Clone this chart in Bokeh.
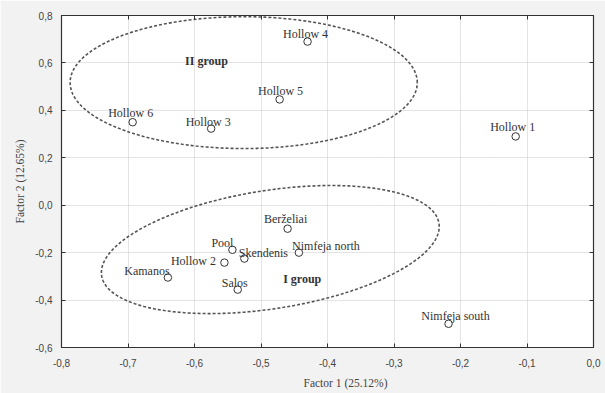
import numpy as np
from bokeh.plotting import figure
from bokeh.models import (ColumnDataSource, FixedTicker, CustomJSTickFormatter,
                          LinearAxis, Range1d, Label, Title)
from bokeh.core.properties import value
from bokeh.embed import file_html
from bokeh.resources import INLINE

# ---- data ----
sites = ["Hollow 1", "Hollow 2", "Hollow 3", "Hollow 4", "Hollow 5", "Hollow 6",
         "Kamanos", "Pool", "Skendenis", "Berželiai",
         "Nimfeja north", "Salos", "Nimfeja south"]
factor1 = [-0.117, -0.555, -0.575, -0.430, -0.472, -0.693,
           -0.640, -0.543, -0.525, -0.460, -0.443, -0.535, -0.218]
factor2 = [0.290, -0.242, 0.323, 0.690, 0.446, 0.350,
           -0.305, -0.188, -0.225, -0.099, -0.200, -0.356, -0.500]

x_ticks = [-0.8, -0.7, -0.6, -0.5, -0.4, -0.3, -0.2, -0.1, 0.0]
y_ticks = [-0.6, -0.4, -0.2, 0.0, 0.2, 0.4, 0.6, 0.8]

# group ellipses: centre and parametric coefficients (x = cx + a cos t, y = cy + b cos t + c sin t)
group_names = ["II group", "I group"]
group_cx = [-0.526, -0.486]
group_cy = [0.517, -0.187]
group_a = [0.261, 0.254]
group_b = [0.0, 0.097]
group_c = [0.278, 0.252]
group_label_x = [-0.582, -0.438]
group_label_y = [0.610, -0.310]

x_title = "Factor 1 (25.12%)"
y_title = "Factor 2 (12.65%)"

# label placement (pixels)
label_dx = [-3, -31, -3, -2, 1, -2, -21, -10, 19, -2, 27, -3, 7]
label_dy = [-9, -2, -7, -8, -8, -9, -7, -7, -6, -10, -7, -7, -8]

SERIF = "Liberation Serif"

p = figure(width=605, height=393, x_range=Range1d(-0.8, 0.0), y_range=Range1d(-0.6, 0.8),
           output_backend="svg", toolbar_location=None,
           min_border_left=61, min_border_right=12, min_border_top=15, min_border_bottom=0)
p.background_fill_color = "white"
p.border_fill_color = "#f2f2f2"
p.outline_line_color = "#333333"
p.outline_line_width = 1.2

fmt = CustomJSTickFormatter(code="return tick.toFixed(1).replace('.', ',');")

for ax, ticks in ((p.xaxis[0], x_ticks), (p.yaxis[0], y_ticks)):
    ax.ticker = FixedTicker(ticks=ticks)
    ax.formatter = fmt
    ax.major_tick_in = 4
    ax.major_tick_out = 0
    ax.minor_tick_line_color = None
    ax.axis_line_color = "#333333"
    ax.major_tick_line_color = "#333333"
    ax.major_label_text_font = "Liberation Sans"
    ax.major_label_text_font_size = "10px"
    ax.major_label_text_color = "#444444"
    ax.axis_label_text_font = SERIF
    ax.axis_label_text_font_style = "normal"
    ax.axis_label_text_font_size = "11.5px"
    ax.axis_label_text_color = "#444444"

p.yaxis[0].axis_label = y_title
p.xaxis[0].major_label_standoff = 11
p.yaxis[0].major_label_standoff = 9
p.yaxis[0].axis_label_standoff = 6

blank = CustomJSTickFormatter(code="return '';")
for loc, ticks in (("above", x_ticks), ("right", y_ticks)):
    ax = LinearAxis(ticker=FixedTicker(ticks=ticks), formatter=blank,
                    major_tick_in=4, major_tick_out=0,
                    minor_tick_line_color=None, major_label_standoff=0,
                    axis_line_color="#333333", major_tick_line_color="#333333")
    p.add_layout(ax, loc)

# x-axis title as a below-title, offset to the right as in the reference
p.add_layout(Title(text=x_title, align="left", offset=242, text_font=SERIF,
                   text_font_size="11.5px", text_font_style="normal",
                   text_color="#444444", standoff=10), "below")

p.xgrid.ticker = FixedTicker(ticks=x_ticks)
p.ygrid.ticker = FixedTicker(ticks=y_ticks)
p.grid.grid_line_color = "#c8c8c8"
p.grid.grid_line_dash = "1 1"

# ellipses
t = np.linspace(0, 2 * np.pi, 300)
for cx, cy, a, b, c in zip(group_cx, group_cy, group_a, group_b, group_c):
    p.line(cx + a * np.cos(t), cy + b * np.cos(t) + c * np.sin(t),
           line_color="#555555", line_width=1.6, line_dash="3 2")

src = ColumnDataSource(dict(x=factor1, y=factor2, name=sites, dx=label_dx, dy=label_dy))
p.scatter("x", "y", source=src, size=7.5, marker="circle", fill_color="white",
          line_color="#333333", line_width=1)
p.text("x", "y", text="name", source=src, x_offset="dx", y_offset="dy",
       text_align="center", text_baseline="alphabetic", text_font=value(SERIF),
       text_font_size="12px", text_color="#333333")

for name, gx, gy in zip(group_names, group_label_x, group_label_y):
    p.add_layout(Label(x=gx, y=gy, text=name, text_font=SERIF, text_font_size="12px",
                       text_font_style="bold", text_color="#333333",
                       text_align="center", text_baseline="middle"))

open("out.html", "w").write(file_html(p, INLINE))
